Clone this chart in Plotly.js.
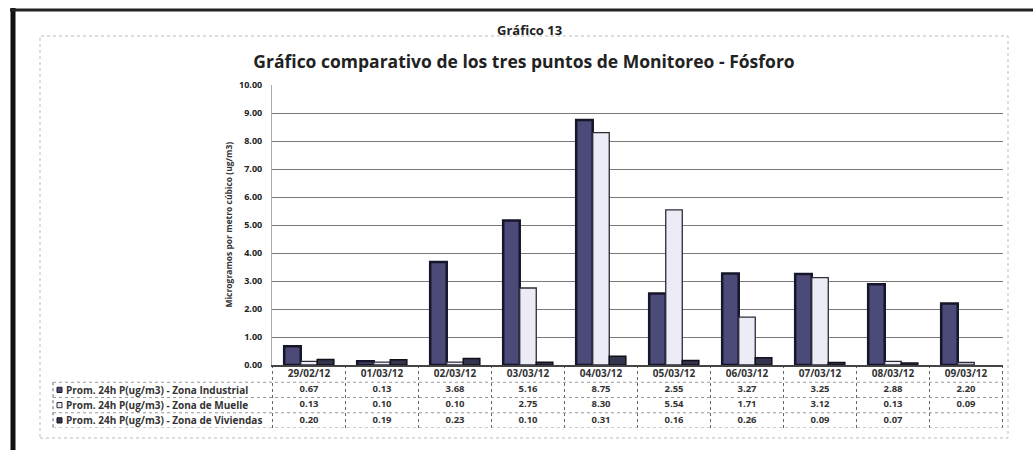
<!DOCTYPE html>
<html>
<head>
<meta charset="utf-8">
<script src="https://cdn.plot.ly/plotly-3.0.1.min.js"></script>
<style>html,body{margin:0;padding:0;background:#fff;}#chart{width:1033px;height:450px;}</style>
</head>
<body>
<div id="chart"></div>
<script>
// ---- data ----
const dates = ["29/02/12","01/03/12","02/03/12","03/03/12","04/03/12","05/03/12","06/03/12","07/03/12","08/03/12","09/03/12"];
const industrial = [0.67, 0.13, 3.68, 5.16, 8.75, 2.55, 3.27, 3.25, 2.88, 2.20];
const muelle     = [0.13, 0.10, 0.10, 2.75, 8.30, 5.54, 1.71, 3.12, 0.13, 0.09];
const viviendas  = [0.20, 0.19, 0.23, 0.10, 0.31, 0.16, 0.26, 0.09, 0.07, null];
const seriesNames = [
  "Prom. 24h P(ug/m3) - Zona Industrial",
  "Prom. 24h P(ug/m3) - Zona de Muelle",
  "Prom. 24h P(ug/m3) - Zona de Viviendas"
];
const yTicks = [0,1,2,3,4,5,6,7,8,9,10];
const supTitle = "Gráfico 13";
const mainTitle = "Gráfico comparativo de los tres puntos de Monitoreo - Fósforo";
const yTitle = "Microgramos por metro cúbico (ug/m3)";

// ---- helpers (pixel -> paper) ----
const W = 1033, H = 450;
const px = v => v / W;
const py = v => 1 - v / H;

const FONT = "Open Sans, Noto Sans, sans-serif";
const fmt = v => (v === null || v === undefined) ? "" : v.toFixed(2);

const barStyles = [
  {color: "#4b4a78", line: {color: "#16162a", width: 2.5}},
  {color: "#ececf6", line: {color: "#2c2c3a", width: 1.3}},
  {color: "#34344e", line: {color: "#101018", width: 1.5}}
];
const seriesVals = [industrial, muelle, viviendas];

const traces = seriesVals.map((vals, i) => ({
  type: "bar", x: dates, y: vals, name: seriesNames[i],
  marker: {color: barStyles[i].color, line: barStyles[i].line},
  xaxis: "x", yaxis: "y", hoverinfo: "x+y+name"
}));

// data table: row 0 = dates, rows 1..3 = series values (on yaxis2)
traces.push({
  type: "scatter", mode: "text", x: dates, y: dates.map(() => 0),
  text: dates, textfont: {family: FONT, size: 10, weight: "bold", color: "#333"},
  xaxis: "x", yaxis: "y2", cliponaxis: false, hoverinfo: "skip", showlegend: false
});
seriesVals.forEach((vals, i) => {
  traces.push({
    type: "scatter", mode: "text", x: dates, y: dates.map(() => i + 1),
    text: vals.map(fmt), textfont: {family: FONT, size: 9.5, weight: "bold", color: "#333"},
    xaxis: "x", yaxis: "y2", cliponaxis: false, hoverinfo: "skip", showlegend: false
  });
});

const shapes = [];
// outer frame (scan border)
shapes.push({type: "line", xref: "paper", yref: "paper", x0: px(13), x1: px(13), y0: py(8), y1: py(450), line: {color: "#111", width: 5}});
shapes.push({type: "line", xref: "paper", yref: "paper", x0: px(10), x1: px(1033), y0: py(10), y1: py(10), line: {color: "#222", width: 3}});
// chart-area dotted border
shapes.push({type: "rect", xref: "paper", yref: "paper", x0: px(40), x1: px(1008), y0: py(438), y1: py(36), line: {color: "#bbb", width: 1, dash: "dot"}});
// table grid
for (let k = 0; k <= dates.length; k++) {
  shapes.push({type: "line", xref: "x", yref: "y2", x0: k - 0.5, x1: k - 0.5, y0: -0.63, y1: 3.5, line: {color: "#666", width: 1, dash: "dot"}});
}
shapes.push({type: "line", xref: "paper", yref: "y2", x0: px(53), x1: px(53), y0: 0.5, y1: 3.5, line: {color: "#666", width: 1, dash: "dot"}});
for (let r = 1; r <= 4; r++) {
  shapes.push({type: "line", xref: "paper", yref: "y2", x0: px(53), x1: px(1003), y0: r - 0.5, y1: r - 0.5, line: {color: "#999", width: 1, dash: "dot"}});
}
// legend keys in the table
seriesVals.forEach((v, i) => {
  shapes.push({type: "rect", xref: "paper", yref: "y2", x0: px(57), x1: px(62), y0: i + 1 - 0.17, y1: i + 1 + 0.17,
    fillcolor: barStyles[i].color, line: {color: barStyles[i].line.color, width: 1}});
});

const annotations = [
  {text: "<b>" + supTitle + "</b>", xref: "paper", yref: "paper", x: px(529), y: py(30), yanchor: "middle", showarrow: false,
   font: {family: FONT, size: 13, color: "#222"}},
  {text: "<b>" + yTitle + "</b>", xref: "paper", yref: "paper", x: px(220), y: py(225), yanchor: "middle", showarrow: false, textangle: -90,
   font: {family: FONT, size: 8.5, color: "#333"}}
];
seriesNames.forEach((n, i) => {
  annotations.push({text: "<b>" + n + "</b>", xref: "paper", yref: "y2", x: px(64), y: i + 1, xanchor: "left", yanchor: "middle", showarrow: false,
    font: {family: FONT, size: 10, color: "#333"}});
});

const layout = {
  width: W, height: H,
  margin: {l: 0, r: 0, t: 0, b: 0},
  paper_bgcolor: "#fff", plot_bgcolor: "#fff",
  showlegend: false,
  barmode: "group", bargap: 0.32, bargroupgap: 0,
  title: {text: "<b>" + mainTitle + "</b>", x: px(524), xanchor: "center", y: py(62), yanchor: "middle",
          font: {family: FONT, size: 17.5, color: "#222"}},
  xaxis: {domain: [px(272), px(1003)], type: "category", showticklabels: false, ticks: "",
          showline: true, linecolor: "#444", linewidth: 1.5, showgrid: false, zeroline: false, fixedrange: true},
  yaxis: {domain: [py(365), py(85)], range: [0, 10], tickvals: yTicks, tickformat: ".2f",
          showline: true, linecolor: "#aaa", linewidth: 1, showgrid: true, gridcolor: "#7a7a7a", gridwidth: 1,
          zeroline: false, ticks: "", ticklabelstandoff: 7,
          tickfont: {family: FONT, size: 9, weight: "bold", color: "#222"}, fixedrange: true},
  yaxis2: {domain: [py(428), py(367)], range: [3.5, -0.5], anchor: "x", visible: false, fixedrange: true},
  shapes: shapes,
  annotations: annotations
};

Plotly.newPlot("chart", traces, layout, {displayModeBar: false, staticPlot: true});
</script>
</body>
</html>
